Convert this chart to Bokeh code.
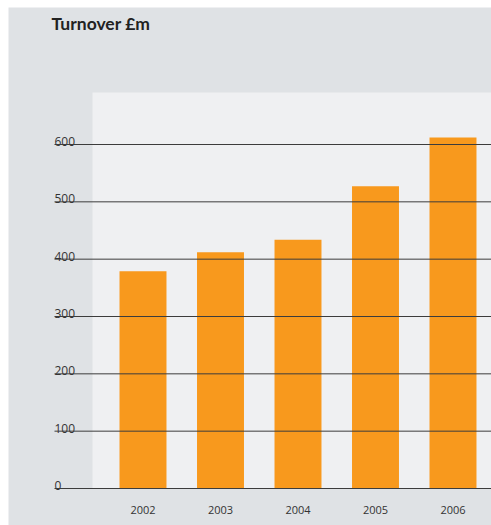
from bokeh.plotting import figure
from bokeh.models import BoxAnnotation, ColumnDataSource, Label
from bokeh.core.properties import value
from bokeh.embed import file_html
from bokeh.resources import INLINE

years = [2002, 2003, 2004, 2005, 2006]
year_labels = ["2002", "2003", "2004", "2005", "2006"]
turnover = [379, 412, 434, 527, 612]
y_ticks = [0, 100, 200, 300, 400, 500, 600]
y_tick_labels = ["0", "100", "200", "300", "400", "500", "600"]
title_text = "Turnover £m"

OUTER = "#dfe2e5"
PANEL = "#eff0f2"
BAR = "#f8991d"
TEXT = "#333333"

# layout constants (pixel geometry translated to axis units)
PX = 0.57333            # pixels per y unit
XPX = 77.5              # pixels per year
x_start = 2002 - (142.5 - 8) / XPX
x_end = 2006 + 38.5 / XPX
grid_x0 = 2002 - 88.5 / XPX
title_x = 2002 - 91.5 / XPX
y_start, y_end = -(525 - 488) / PX, (488 - 7) / PX
panel_left = 2002 - 50.5 / XPX
panel_top = (488 - 92) / PX
title_y = (488 - 23) / PX

p = figure(width=483, height=518, output_backend="svg", toolbar_location=None,
           x_range=(x_start, x_end), y_range=(y_start, y_end),
           x_axis_location=None, y_axis_location=None,
           min_border_left=0, min_border_right=0,
           min_border_top=0, min_border_bottom=0, margin=(7, 0, 0, 8))
p.background_fill_color = OUTER
p.border_fill_color = OUTER
p.outline_line_color = None
p.xgrid.visible = False
p.ygrid.visible = False

panel = BoxAnnotation(left=panel_left, bottom=0, top=panel_top, fill_color=PANEL,
                      fill_alpha=1, line_color=None, level="underlay")
p.add_layout(panel)

title = Label(x=title_x, y=title_y, text=title_text,
              text_font="Lato", text_font_size="17.5px", text_font_style="bold",
              text_color="#222222", text_baseline="middle", text_align="left")
p.add_layout(title)

p.vbar(x=years, top=turnover, width=0.606, color=BAR, line_color=None)

p.segment(x0=[grid_x0] * len(y_ticks), x1=[x_end] * len(y_ticks), y0=y_ticks, y1=y_ticks,
          line_color="#3c3c3c", line_width=1, level="overlay")

ysrc = ColumnDataSource(dict(x=[grid_x0] * len(y_ticks), y=y_ticks, t=y_tick_labels))
p.text(x="x", y="y", text="t", source=ysrc, text_align="left", text_baseline="alphabetic",
       y_offset=-3, text_font=value("Open Sans"), text_font_size="12px",
       text_color=TEXT)

xsrc = ColumnDataSource(dict(x=years, y=[0] * len(years), t=year_labels))
p.text(x="x", y="y", text="t", source=xsrc, text_align="center", text_baseline="middle",
       y_offset=21, text_font=value("Open Sans"), text_font_size="11px",
       text_color=TEXT)

open("out.html", "w").write(file_html(p, INLINE))
